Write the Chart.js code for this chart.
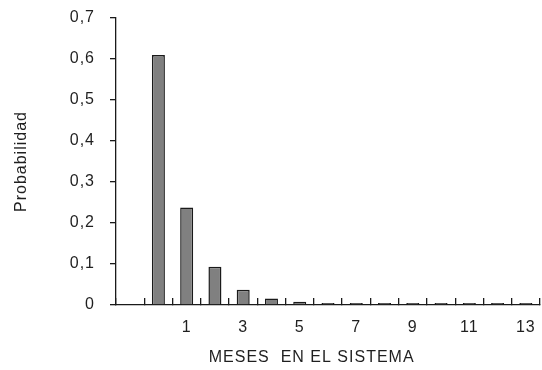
<!DOCTYPE html>
<html lang="es">
<head>
  <meta charset="UTF-8">
  <title>Meses en el sistema</title>
  <script src="https://cdn.jsdelivr.net/npm/chart.js"></script>
  <style>
    body { margin: 0; background: #fff; }
    #wrap { width: 542px; height: 370px; }
  </style>
</head>
<body>
  <div id="wrap"><canvas id="probChart" width="542" height="370"></canvas></div>

  <script>
    // first slot is left empty, then months 0..13
    const meses = ['', '0', '1', '2', '3', '4', '5', '6', '7', '8', '9', '10', '11', '12', '13'];
    const probabilidad = [null, 0.61, 0.238, 0.093, 0.037, 0.016, 0.008, 0.005, 0.005, 0.005, 0.005, 0.005, 0.005, 0.005, 0.005];
    const yTicks = [0, 0.1, 0.2, 0.3, 0.4, 0.5, 0.6, 0.7];

    const txt = '#1f1f1f';
    const lineCol = '#1a1a1a';
    const fontFam = '"Liberation Sans", Arial, sans-serif';

    // the original text is a little spread out
    const spacing = {
      id: 'spacing',
      beforeLayout(chart) { chart.ctx.letterSpacing = '1px'; },
      beforeDraw(chart) { chart.ctx.letterSpacing = '1px'; }
    };

    const ctx = document.getElementById('probChart').getContext('2d');
    new Chart(ctx, {
      type: 'bar',
      data: {
        labels: meses,
        datasets: [{
          data: probabilidad,
          backgroundColor: '#808080',
          borderColor: lineCol,
          borderWidth: 1.5,
          barPercentage: 0.46,
          categoryPercentage: 1
        }]
      },
      plugins: [spacing],
      options: {
        responsive: false,
        animation: false,
        layout: { padding: { left: 10, right: 2, top: 18, bottom: 3 } },
        plugins: {
          legend: { display: false },
          tooltip: { enabled: false }
        },
        scales: {
          x: {
            offset: true,
            grid: {
              offset: true,
              drawOnChartArea: false,
              tickLength: -7,
              color: lineCol,
              lineWidth: 1.3
            },
            border: { color: lineCol, width: 1.3 },
            ticks: {
              autoSkip: false,
              maxRotation: 0,
              padding: 20,
              color: txt,
              font: { family: fontFam, size: 16 },
              callback: function (v, i) { return i % 2 === 0 ? meses[i] : ''; }
            },
            title: {
              display: true,
              // trailing spaces nudge the centred title a bit to the left, like the original
              text: 'MESES  EN EL SISTEMA      ',
              color: txt,
              font: { family: fontFam, size: 16 },
              padding: { top: 4, bottom: 0 }
            },
            afterFit: function (s) {
              s.height = 62;
              s.paddingLeft = 0;
              s.paddingRight = 0;
            }
          },
          y: {
            min: 0,
            max: 0.7,
            afterBuildTicks: function (s) { s.ticks = yTicks.map(v => ({ value: v })); },
            grid: {
              drawOnChartArea: false,
              tickLength: 6,
              color: lineCol,
              lineWidth: 1.3
            },
            border: { color: lineCol, width: 1.3 },
            ticks: {
              padding: 15,
              color: txt,
              font: { family: fontFam, size: 16 },
              callback: function (v) { return v === 0 ? '0' : v.toFixed(1).replace('.', ','); }
            },
            title: {
              display: true,
              text: 'Probabilidad',
              color: txt,
              font: { family: fontFam, size: 16 },
              padding: { top: 2, bottom: 0 }
            },
            afterFit: function (s) {
              s.width = 106;
              s.paddingTop = 0;
              s.paddingBottom = 0;
            }
          }
        }
      }
    });
  </script>
</body>
</html>
